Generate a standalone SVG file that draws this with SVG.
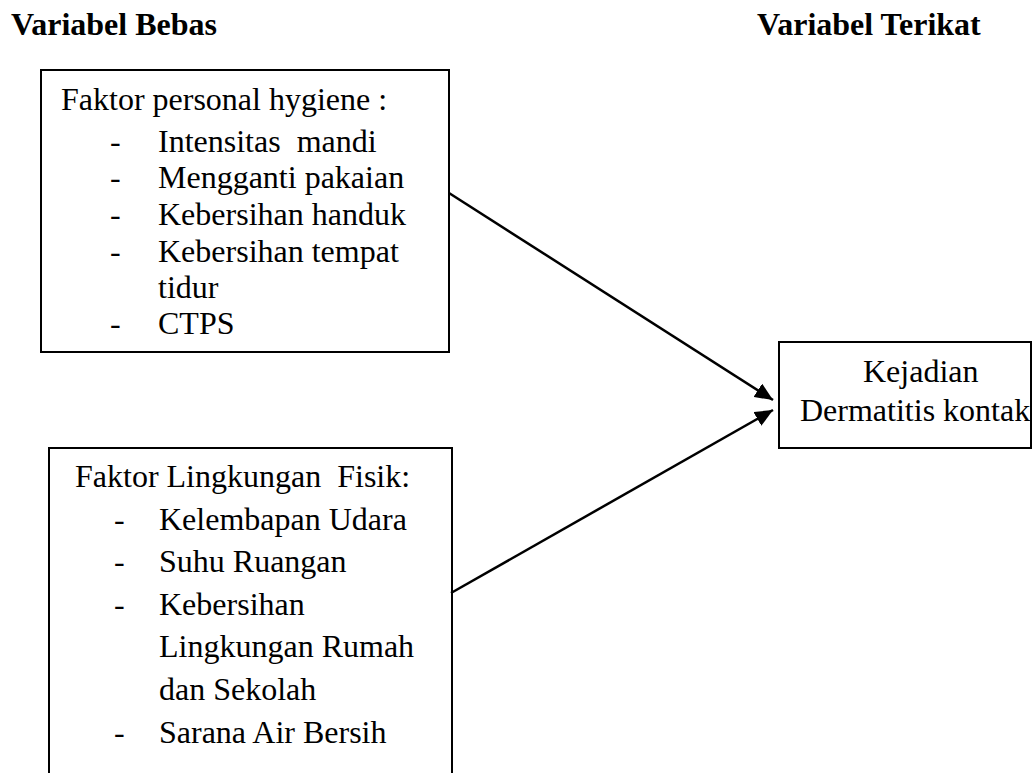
<svg xmlns="http://www.w3.org/2000/svg" width="1033" height="773" viewBox="0 0 1033 773">
<style>
text{font-family:"Liberation Serif","Times New Roman",serif;font-size:32px;fill:#000;white-space:pre}
.h{font-weight:bold}
.box{fill:#fff;stroke:#000;stroke-width:2}
.conn{stroke:#000;stroke-width:2.5;fill:none}
</style>
<defs>
<marker id="arr" markerUnits="userSpaceOnUse" markerWidth="20" markerHeight="16" refX="18" refY="8" orient="auto">
<path d="M0,0 L18,8 L0,16 z" fill="#000"/>
</marker>
</defs>
<rect width="1033" height="773" fill="#fff"/>
<g id="headers">
<text class="h" x="11" y="35">Variabel Bebas</text>
<text class="h" x="757" y="35">Variabel Terikat</text>
</g>
<g id="node-personal-hygiene">
<rect class="box" x="41" y="70" width="408" height="282"/>
<text x="61" y="110">Faktor personal hygiene :</text>
<text x="110" y="152">-</text><text x="158" y="152">Intensitas  mandi</text>
<text x="110" y="188">-</text><text x="158" y="188">Mengganti pakaian</text>
<text x="110" y="225">-</text><text x="158" y="225">Kebersihan handuk</text>
<text x="110" y="262">-</text><text x="158" y="262">Kebersihan tempat</text>
<text x="158" y="298">tidur</text>
<text x="110" y="334">-</text><text x="158" y="334">CTPS</text>
</g>
<g id="node-lingkungan-fisik">
<rect class="box" x="49" y="448" width="403" height="360"/>
<text x="75" y="487">Faktor Lingkungan  Fisik:</text>
<text x="114" y="530">-</text><text x="159" y="530">Kelembapan Udara</text>
<text x="114" y="572">-</text><text x="159" y="572">Suhu Ruangan</text>
<text x="114" y="615">-</text><text x="159" y="615">Kebersihan</text>
<text x="159" y="657">Lingkungan Rumah</text>
<text x="159" y="700">dan Sekolah</text>
<text x="114" y="743">-</text><text x="159" y="743">Sarana Air Bersih</text>
</g>
<g id="node-dermatitis">
<rect class="box" x="779" y="342" width="252" height="106"/>
<text x="863" y="382">Kejadian</text>
<text x="800" y="421">Dermatitis kontak</text>
</g>
<g id="connectors">
<line class="conn" x1="449" y1="193" x2="773" y2="400" marker-end="url(#arr)"/>
<line class="conn" x1="451" y1="593" x2="773" y2="410" marker-end="url(#arr)"/>
</g>
</svg>
